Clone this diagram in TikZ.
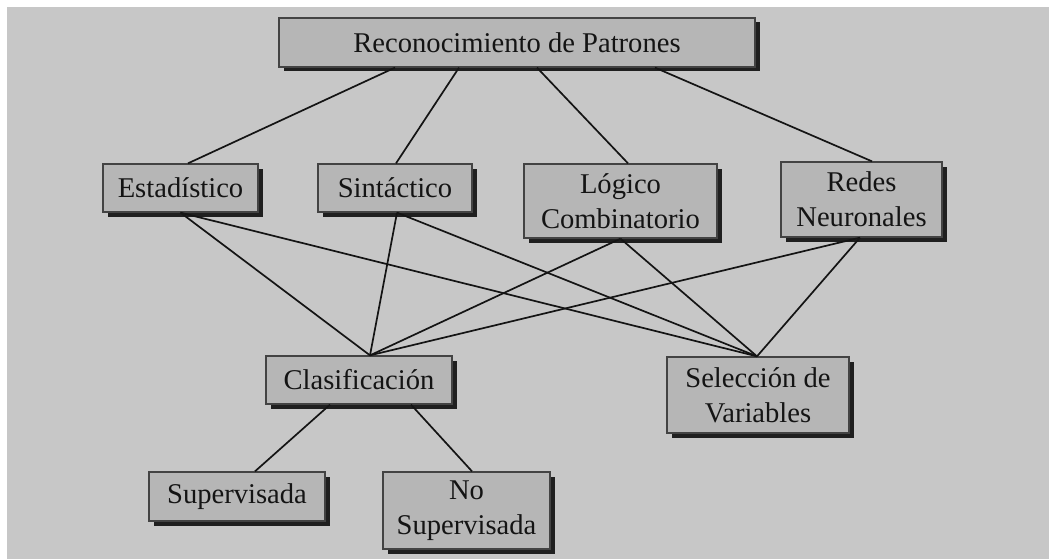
\documentclass[tikz,border=0pt]{standalone}
\usepackage{fontspec}
\setmainfont{Liberation Serif}
\usetikzlibrary{shadows}
\definecolor{bggray}{HTML}{C7C7C7}
\definecolor{boxgray}{HTML}{B6B6B6}
\definecolor{ink}{HTML}{141414}
\begin{document}
\begin{tikzpicture}[x=1pt,y=-1pt,
  box/.style={draw=ink!80, line width=1.3pt, fill=boxgray, inner sep=0pt,
    align=center, text=ink, font=\fontsize{28.6}{35}\selectfont,
    drop shadow={shadow xshift=4.5pt, shadow yshift=-4.5pt, opacity=1, fill=black!88}},
  link/.style={draw=ink, line width=1.7pt}]
\useasboundingbox (0,0) rectangle (1049,559);
\fill[white] (0,0) rectangle (1049,559);
\fill[bggray] (7,7) rectangle (1049,559);
\node[box, minimum width=476pt, minimum height=49pt] (top) at (517,42.5) {Reconocimiento de Patrones};
\node[box, minimum width=155pt, minimum height=48pt] (est) at (180.5,188) {Estadístico};
\node[box, minimum width=154pt, minimum height=48pt] (sin) at (395,188) {Sintáctico};
\node[box, minimum width=193pt, minimum height=74pt] (log) at (620.5,201) {Lógico\\Combinatorio};
\node[box, minimum width=161pt, minimum height=75pt] (red) at (861.5,199.5) {Redes\\Neuronales};
\node[box, minimum width=186pt, minimum height=48pt] (cla) at (359,380) {Clasificación};
\node[box, minimum width=182pt, minimum height=76pt] (sel) at (758,395) {Selección de\\Variables};
\node[box, minimum width=176pt, minimum height=49pt] (sup) at (237,496.5) {Supervisada};
\node[box, minimum width=167pt, minimum height=77pt] (nos) at (466.5,510.5) {No\\Supervisada};
% top level
\draw[link] ([xshift=-122pt]top.south) -- ([xshift=7.5pt]est.north);
\draw[link] ([xshift=-58pt]top.south) -- ([xshift=1pt]sin.north);
\draw[link] ([xshift=20pt]top.south) -- ([xshift=7.5pt]log.north);
\draw[link] ([xshift=138pt]top.south) -- ([xshift=10.5pt]red.north);
% to Clasificacion
\draw[link] (est.south) -- ([xshift=11pt]cla.north);
\draw[link] ([xshift=2pt]sin.south) -- ([xshift=11pt]cla.north);
\draw[link] (log.south) -- ([xshift=11pt]cla.north);
\draw[link] ([xshift=-1.5pt]red.south) -- ([xshift=11pt]cla.north);
% to Seleccion
\draw[link] (est.south) -- ([xshift=-1pt]sel.north);
\draw[link] ([xshift=2pt]sin.south) -- ([xshift=-1pt]sel.north);
\draw[link] (log.south) -- ([xshift=-1pt]sel.north);
\draw[link] ([xshift=-1.5pt]red.south) -- ([xshift=-1pt]sel.north);
% bottom
\draw[link] ([xshift=-29pt]cla.south) -- ([xshift=18pt]sup.north);
\draw[link] ([xshift=52pt]cla.south) -- ([xshift=5.5pt]nos.north);
\end{tikzpicture}
\end{document}
